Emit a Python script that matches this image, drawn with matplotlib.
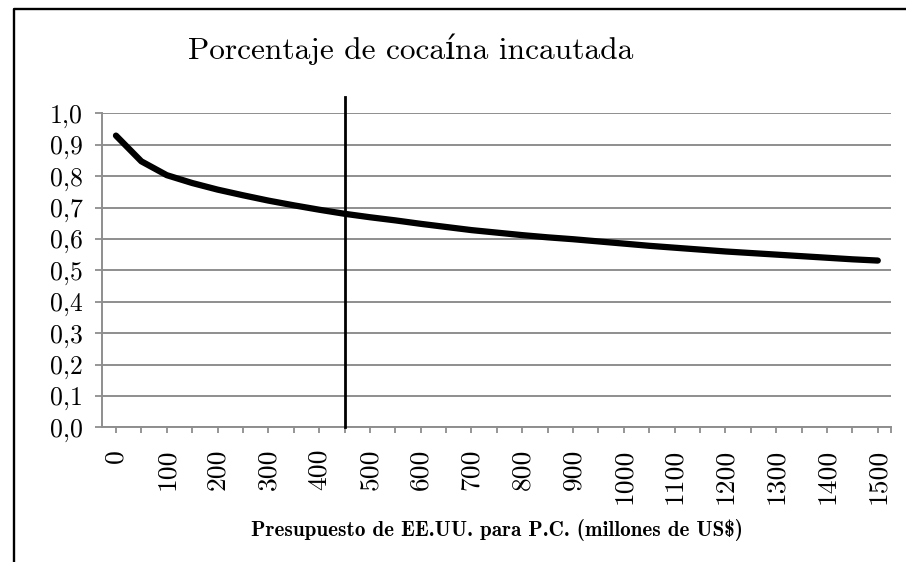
#!/usr/bin/env python3

import matplotlib
matplotlib.use("Agg")
import matplotlib.pyplot as plt
from matplotlib.lines import Line2D

# presupuesto (millones de US$) y porcentaje incautado
presupuesto = [0, 50, 100, 150, 200, 250, 300, 350, 400, 450,
               500, 550, 600, 650, 700, 750, 800, 850, 900, 950,
               1000, 1050, 1100, 1150, 1200, 1250, 1300, 1350, 1400, 1450, 1500]
incautado = [0.929, 0.847, 0.803, 0.778, 0.757, 0.739, 0.722, 0.707, 0.693, 0.680,
             0.669, 0.659, 0.648, 0.638, 0.628, 0.620, 0.612, 0.605, 0.599, 0.592,
             0.585, 0.578, 0.572, 0.566, 0.560, 0.555, 0.550, 0.545, 0.540, 0.535, 0.531]
presupuesto_actual = 450
y_ticks = [0.0, 0.1, 0.2, 0.3, 0.4, 0.5, 0.6, 0.7, 0.8, 0.9, 1.0]

serif = ["cmr10", "DejaVu Serif"]
serif_bold = ["cmb10", "DejaVu Serif"]
plt.rcParams["axes.formatter.use_mathtext"] = True

fig = plt.figure(figsize=(9.06, 5.62), dpi=100)
ax = fig.add_axes([102 / 906, 1 - 427.3 / 562, 789 / 906, 314 / 562])

idx = list(range(len(presupuesto)))
ax.plot(idx, incautado, color="black", lw=4.5,
        solid_capstyle="round", solid_joinstyle="round", zorder=3)

# linea vertical en el presupuesto actual
xv = presupuesto.index(presupuesto_actual)
ax.plot([xv, xv], [0, 1.052], color="black", lw=2, clip_on=False, zorder=4)

ax.set_xlim(-0.55, 30.52)
ax.set_ylim(0, 1.0)

grid_c = "#8e8e8e"
ax.set_yticks(y_ticks)
ax.set_yticklabels([("%.1f" % v).replace(".", ",") for v in y_ticks],
                   family=serif, fontsize=18.5)
ax.yaxis.grid(True, color=grid_c, lw=1.4)
ax.set_axisbelow(True)

ax.set_xticks(idx + [30.52])
ax.set_xticklabels([str(p) if p % 100 == 0 else "" for p in presupuesto] + [""],
                   family=serif, fontsize=19.8, rotation=90, va="top")
ax.tick_params(axis="x", length=4, width=1.3, color=grid_c, pad=11.5)
ax.tick_params(axis="y", length=5, width=1.3, color=grid_c, pad=9)

for s in ["top", "right"]:
    ax.spines[s].set_visible(False)
for s in ["left", "bottom"]:
    ax.spines[s].set_color(grid_c)
    ax.spines[s].set_linewidth(1.4)

ax.set_xlabel("Presupuesto de EE.UU. para P.C. (millones de US$)",
              family=serif_bold, fontsize=15.2)
ax.xaxis.set_label_coords(0.5, -0.292)

fig.text(411 / 906, 1 - 49 / 562, "Porcentaje de cocaína incautada",
         family=serif, fontsize=22.6, ha="center", va="center")

# marco del grafico (recortado a la derecha y abajo)
fig.add_artist(Line2D([13.5 / 906, 13.5 / 906, 1.01], [-0.01, 1 - 8.5 / 562, 1 - 8.5 / 562],
                      transform=fig.transFigure, color="black", lw=1.7))

fig.savefig("out.png", dpi=100)
